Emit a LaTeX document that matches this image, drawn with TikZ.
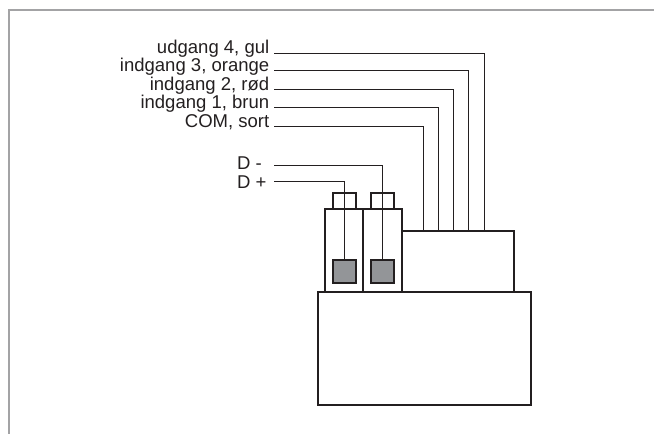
\documentclass[tikz,border=0pt]{standalone}
\usepackage{fontspec}
\setmainfont{Liberation Sans}
\definecolor{ink}{HTML}{231F20}
\definecolor{framegray}{HTML}{A3A3A5}
\definecolor{termgray}{HTML}{939598}
\tikzset{
  boxpart/.style={draw=ink,line width=2.3bp,inner sep=0pt,outer sep=0pt,fill=white},
  graysq/.style={boxpart,fill=termgray,minimum width=23bp,minimum height=23bp},
  capbox/.style={boxpart,minimum width=23bp,minimum height=16bp},
  termbox/.style={boxpart,minimum height=83bp},
  lbl/.style={anchor=base east,inner sep=0pt,text=ink,font=\fontsize{18.6}{20}\selectfont},
  lblleft/.style={lbl,anchor=base west},
  wire/.style={draw=ink,line width=1.3bp},
  frameline/.style={draw=framegray,line width=2bp}
}
\begin{document}
\begin{tikzpicture}[x=1bp,y=-1bp]
\useasboundingbox (0,0) rectangle (654,434);
\draw[frameline] (8.5,434) -- (8.5,10.5) -- (654,10.5);
% base and blocks
\node[boxpart,minimum width=213bp,minimum height=113bp] (base) at (424.5,348.5) {};
\node[boxpart,minimum width=112bp,minimum height=61bp] (block) at (458,261.5) {};
\node[termbox,minimum width=38bp] (t1) at (344,250.5) {};
\node[termbox,minimum width=39bp] (t2) at (382.5,250.5) {};
\node[capbox] (c1) at (344.5,201) {};
\node[capbox] (c2) at (382.5,201) {};
\node[graysq] (s1) at (344.5,271.5) {};
\node[graysq] (s2) at (382.5,271.5) {};
% labels
\node[lbl] (l4) at (269.5,53.5) {udgang 4, gul};
\node[lbl] (l3) at (269.5,71.7) {indgang 3, orange};
\node[lbl] (l2) at (269.5,91) {indgang 2, rød};
\node[lbl] (l1) at (269.5,109) {indgang 1, brun};
\node[lbl] (l0) at (269.5,128) {COM, sort};
\node[lblleft] (dm) at (237,169.5) {D -};
\node[lblleft] (dp) at (237,188.5) {D +};
% wire ends
\coordinate (a4) at (274,53.5);
\coordinate (a3) at (274,70.5);
\coordinate (a2) at (274,89.5);
\coordinate (a1) at (274,107.5);
\coordinate (a0) at (274,126.5);
\coordinate (am) at (274,165.5);
\coordinate (ap) at (274,181.5);
\coordinate (b4) at (484.5,231);
\coordinate (b3) at (468.5,231);
\coordinate (b2) at (453.5,231);
\coordinate (b1) at (438.5,231);
\coordinate (b0) at (423.5,231);
\draw[wire] (a4) -| (b4);
\draw[wire] (a3) -| (b3);
\draw[wire] (a2) -| (b2);
\draw[wire] (a1) -| (b1);
\draw[wire] (a0) -| (b0);
\draw[wire] (am) -| (s2.north);
\draw[wire] (ap) -| (s1.north);
\end{tikzpicture}
\end{document}
